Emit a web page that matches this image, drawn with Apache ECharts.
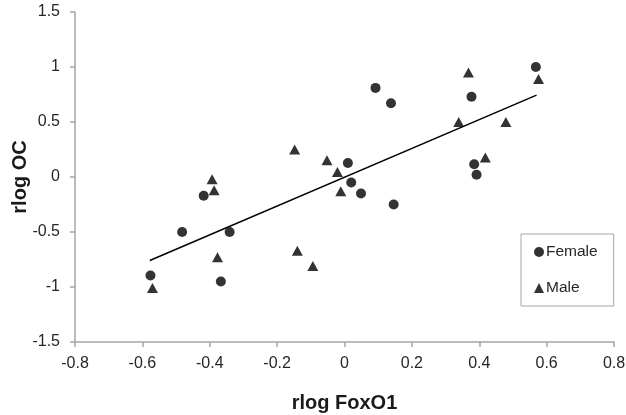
<!DOCTYPE html>
<html>
<head>
<meta charset="utf-8">
<script src="https://cdn.jsdelivr.net/npm/echarts@6/dist/echarts.min.js"></script>
<style>
  html, body { margin: 0; padding: 0; background: #fff; }
  #chart { width: 626px; height: 415px; }
</style>
</head>
<body>
<div id="chart"></div>
<script>
  // 数据
  var femaleX = [-0.576, -0.482, -0.418, -0.367, -0.341, 0.01, 0.02, 0.049, 0.092, 0.138, 0.146, 0.377, 0.385, 0.392, 0.568]
  var femaleY = [-0.895, -0.50, -0.17, -0.95, -0.50, 0.128, -0.05, -0.15, 0.81, 0.67, -0.25, 0.73, 0.116, 0.02, 1.0]
  var maleX = [-0.570, -0.393, -0.387, -0.377, -0.148, -0.140, -0.094, -0.052, -0.021, -0.011, 0.339, 0.368, 0.418, 0.479, 0.576]
  var maleY = [-1.01, -0.02, -0.12, -0.73, 0.25, -0.67, -0.81, 0.152, 0.046, -0.13, 0.50, 0.95, 0.177, 0.50, 0.89]
  var trendX = [-0.578, 0.570]
  var trendY = [-0.759, 0.744]

  function pairs (xs, ys) {
    var out = []
    for (var i = 0; i < xs.length; i++) {
      out.push([xs[i], ys[i]])
    }
    return out
  }

  var font = 'Liberation Sans, Arial, sans-serif'
  var axisColor = '#a6a6a6'
  var labelStyle = { color: '#262626', fontSize: 16, fontFamily: font }
  var nameStyle = { color: '#1a1a1a', fontSize: 20, fontWeight: 'bold', fontFamily: font }

  var chart = echarts.init(document.getElementById('chart'), null, { renderer: 'canvas' })
  chart.setOption({
    animation: false,
    grid: { left: 75, right: 12, top: 12, bottom: 73, containLabel: false, outerBoundsMode: 'none' },
    legend: {
      orient: 'vertical',
      left: 521,
      top: 234,
      padding: [9, 16, 9, 13],
      itemGap: 18,
      itemWidth: 10,
      itemHeight: 10,
      borderColor: '#a6a6a6',
      borderWidth: 1,
      textStyle: { color: '#262626', fontSize: 15.5, lineHeight: 18, fontFamily: font, padding: [0, 0, 0, -3] },
      data: [
        { name: 'Female', icon: 'circle' },
        { name: 'Male', icon: 'triangle' }
      ]
    },
    xAxis: {
      type: 'value',
      min: -0.8,
      max: 0.8,
      interval: 0.2,
      name: 'rlog FoxO1',
      nameLocation: 'middle',
      nameGap: 51,
      nameMoveOverlap: false,
      nameTextStyle: nameStyle,
      axisLine: { show: true, onZero: false, lineStyle: { color: axisColor, width: 1.5 } },
      axisTick: { show: true, length: 5, lineStyle: { color: axisColor, width: 1.5 } },
      axisLabel: Object.assign({ margin: 14 }, labelStyle),
      splitLine: { show: false }
    },
    yAxis: {
      type: 'value',
      min: -1.5,
      max: 1.5,
      interval: 0.5,
      name: 'rlog OC',
      nameLocation: 'middle',
      nameGap: 45,
      nameMoveOverlap: false,
      nameTextStyle: nameStyle,
      axisLine: { show: true, onZero: false, lineStyle: { color: axisColor, width: 1.5 } },
      axisTick: { show: true, length: 5, lineStyle: { color: axisColor, width: 1.5 } },
      axisLabel: Object.assign({ margin: 15 }, labelStyle),
      splitLine: { show: false }
    },
    series: [
      {
        name: 'Female',
        type: 'scatter',
        symbol: 'circle',
        symbolSize: 10,
        itemStyle: { color: '#000' },
        data: pairs(femaleX, femaleY),
        z: 3
      },
      {
        name: 'Male',
        type: 'scatter',
        symbol: 'triangle',
        symbolSize: [11, 10],
        itemStyle: { color: '#000' },
        data: pairs(maleX, maleY),
        z: 3
      },
      {
        name: 'trend',
        type: 'line',
        showSymbol: false,
        symbol: 'none',
        lineStyle: { color: '#000', width: 1.5 },
        data: pairs(trendX, trendY),
        z: 2
      }
    ]
  })
</script>
</body>
</html>
